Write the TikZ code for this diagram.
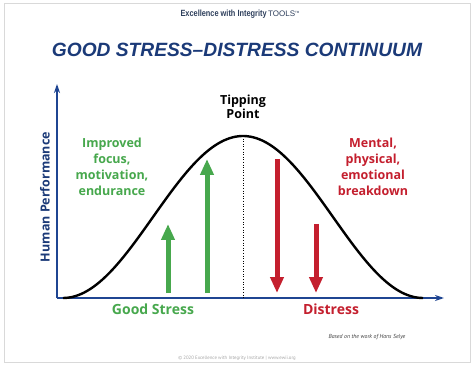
\documentclass[tikz,border=0pt]{standalone}
\usepackage{fontspec}
\setmainfont{Open Sans}
\newfontfamily\titlefont{Liberation Sans}
\newfontfamily\hdrfont{Liberation Sans}
\newfontfamily\smallfont{PT Sans}
\usetikzlibrary{arrows.meta}
\definecolor{navy}{HTML}{1B3A78}
\definecolor{axisblue}{HTML}{1F4592}
\definecolor{gstress}{HTML}{47A84D}
\definecolor{dstress}{HTML}{C41F2E}
\definecolor{hdr}{HTML}{2E3F5C}
\begin{document}
\begin{tikzpicture}[x=1pt,y=-1pt,
  axisline/.style={draw=axisblue,line width=2pt,-{Stealth[length=9pt,width=6pt]}},
  uparrow/.style={draw=gstress,line width=5pt,-{Triangle[length=16pt,width=13pt]}},
  downarrow/.style={draw=dstress,line width=5pt,-{Triangle[length=16pt,width=13pt]}},
  gtext/.style={text=gstress,font=\bfseries\fontsize{12.5}{15.8}\selectfont,align=center},
  rtext/.style={text=dstress,font=\bfseries\fontsize{12.5}{15.8}\selectfont,align=center},
  lbl/.style={font=\bfseries\fontsize{14}{16}\selectfont,inner sep=0pt}
]
\useasboundingbox (0,0) rectangle (474,366);
\fill[white] (0,0) rectangle (474,366);
\draw[black!15,line width=1pt] (4,4) rectangle (470,362);

% header
\node[inner sep=0pt,text=hdr] (hdr) at (240,14)
  {\hdrfont\fontsize{9}{10}\selectfont\scalebox{0.82}[1]{\bfseries Excellence with Integrity}\,{\fontsize{8}{10}\selectfont TOOLS}\raisebox{3pt}{\fontsize{3}{3}\selectfont TM}};

% title
\node[inner sep=0pt,text=navy] (title) at (237,50)
  {\titlefont\bfseries\itshape\fontsize{19.2}{22}\selectfont GOOD STRESS\textendash DISTRESS CONTINUUM};

% axes
\coordinate (O) at (57,298);
\coordinate (ytop) at (57,84);
\coordinate (xend) at (444,298);
\draw[axisline] (O) -- (ytop);
\draw[axisline] (O) -- (xend);

% curve
\coordinate (peak) at (243,136);
\coordinate (peakbase) at (243,298);
\draw[black,line width=2.4pt] plot[domain=63:423,samples=120] (\x,{298-81*(1+cos(\x-243))});
\draw[black,line width=0.6pt,dotted] (peak) -- (peakbase);

% tipping point
\node[lbl,align=center,font=\bfseries\fontsize{12.5}{14}\selectfont] (tip) at (243,107) {Tipping\\Point};

% y-axis label
\node[rotate=90,text=navy,font=\bfseries\fontsize{12.5}{14}\selectfont,inner sep=0pt] (ylab) at (45,197) {Human Performance};

% green arrows
\coordinate (g1s) at (168,293); \coordinate (g1e) at (168,224);
\coordinate (g2s) at (207,293); \coordinate (g2e) at (207,159);
\draw[uparrow] (g1s) -- (g1e);
\draw[uparrow] (g2s) -- (g2e);

% red arrows
\coordinate (r1s) at (277,159); \coordinate (r1e) at (277,293);
\coordinate (r2s) at (316,224); \coordinate (r2e) at (316,293);
\draw[downarrow] (r1s) -- (r1e);
\draw[downarrow] (r2s) -- (r2e);

% texts
\node[gtext] (gtxt) at (112,167) {Improved\\focus,\\motivation,\\endurance};
\node[rtext] (rtxt) at (373,167) {Mental,\\physical,\\emotional\\breakdown};

\node[lbl,text=gstress] (good) at (153,309) {Good Stress};
\node[lbl,text=dstress] (dist) at (331,309) {Distress};

\node[inner sep=0pt,text=black!75,font=\smallfont\itshape\fontsize{5.8}{6}\selectfont] (based) at (367,337) {Based on the work of Hans Selye};
\node[inner sep=0pt,text=black!35,font=\smallfont\fontsize{4.8}{5}\selectfont] (foot) at (237,358) {\textcopyright\ 2020 Excellence with Integrity Institute | www.ewii.org};
\end{tikzpicture}
\end{document}
